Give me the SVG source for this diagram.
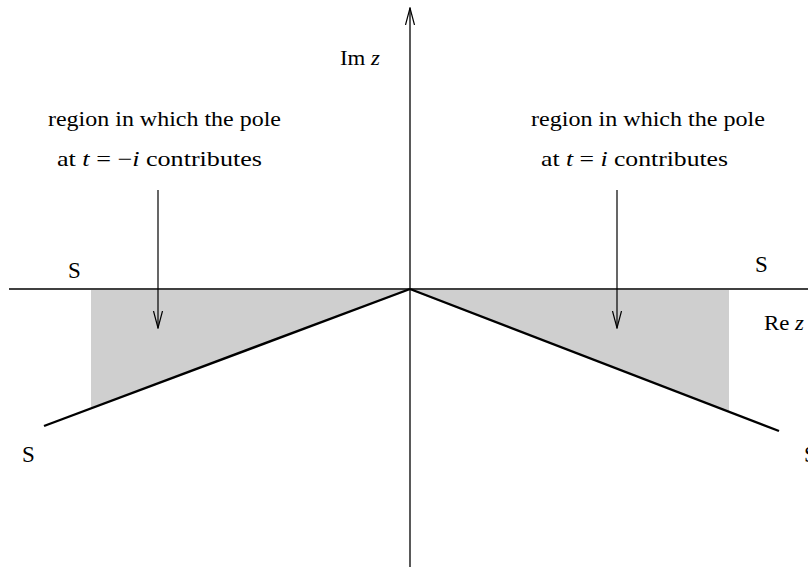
<svg xmlns="http://www.w3.org/2000/svg" width="808" height="571" viewBox="0 0 808 571">
<style>
.t{font-family:"Liberation Serif","DejaVu Serif",serif;font-size:21px;fill:#000}
.s{font-size:23px}
.m{font-style:italic}
.ax{stroke:#000;stroke-width:1.3;fill:none}
.ray{stroke:#000;stroke-width:2.4;fill:none}
.arr{stroke:#000;stroke-width:1.2;fill:none}
.sh{fill:#cfcfcf;stroke:none}
</style>
<defs>
<marker id="ah" markerWidth="18" markerHeight="12" refX="17" refY="6" orient="auto" markerUnits="userSpaceOnUse" viewBox="0 0 18 12">
<path d="M0,1.5 L17,6 L0,10.5" fill="none" stroke="#000" stroke-width="1.2"/>
</marker>
</defs>
<g id="regions">
<polygon class="sh" points="91,290 410,290 91,408"/>
<polygon class="sh" points="410,290 729,290 729,412"/>
</g>
<g id="connectors">
<line class="ax" x1="9" y1="289" x2="808" y2="289"/>
<line class="ax" x1="410" y1="567" x2="410" y2="8" marker-end="url(#ah)"/>
<line class="ray" x1="410" y1="289" x2="44" y2="426"/>
<line class="ray" x1="410" y1="289" x2="779" y2="431"/>
<line class="arr" x1="158" y1="190" x2="158" y2="328" marker-end="url(#ah)"/>
<line class="arr" x1="617" y1="190" x2="617" y2="328" marker-end="url(#ah)"/>
</g>
<g id="labels">
<text class="t" x="340" y="65" textLength="40" lengthAdjust="spacingAndGlyphs">Im <tspan class="m">z</tspan></text>
<text class="t" x="764" y="330" textLength="40" lengthAdjust="spacingAndGlyphs">Re <tspan class="m">z</tspan></text>
<text class="t s" x="68" y="278">S</text>
<text class="t s" x="755" y="272">S</text>
<text class="t s" x="22" y="462">S</text>
<text class="t s" x="804" y="462">S</text>
<text class="t" x="48" y="126" textLength="233" lengthAdjust="spacingAndGlyphs">region in which the pole</text>
<text class="t" x="57" y="166" textLength="205" lengthAdjust="spacingAndGlyphs">at <tspan class="m">t</tspan> = −<tspan class="m">i</tspan> contributes</text>
<text class="t" x="531" y="126" textLength="234" lengthAdjust="spacingAndGlyphs">region in which the pole</text>
<text class="t" x="541" y="166" textLength="187" lengthAdjust="spacingAndGlyphs">at <tspan class="m">t</tspan> = <tspan class="m">i</tspan> contributes</text>
</g>
</svg>
